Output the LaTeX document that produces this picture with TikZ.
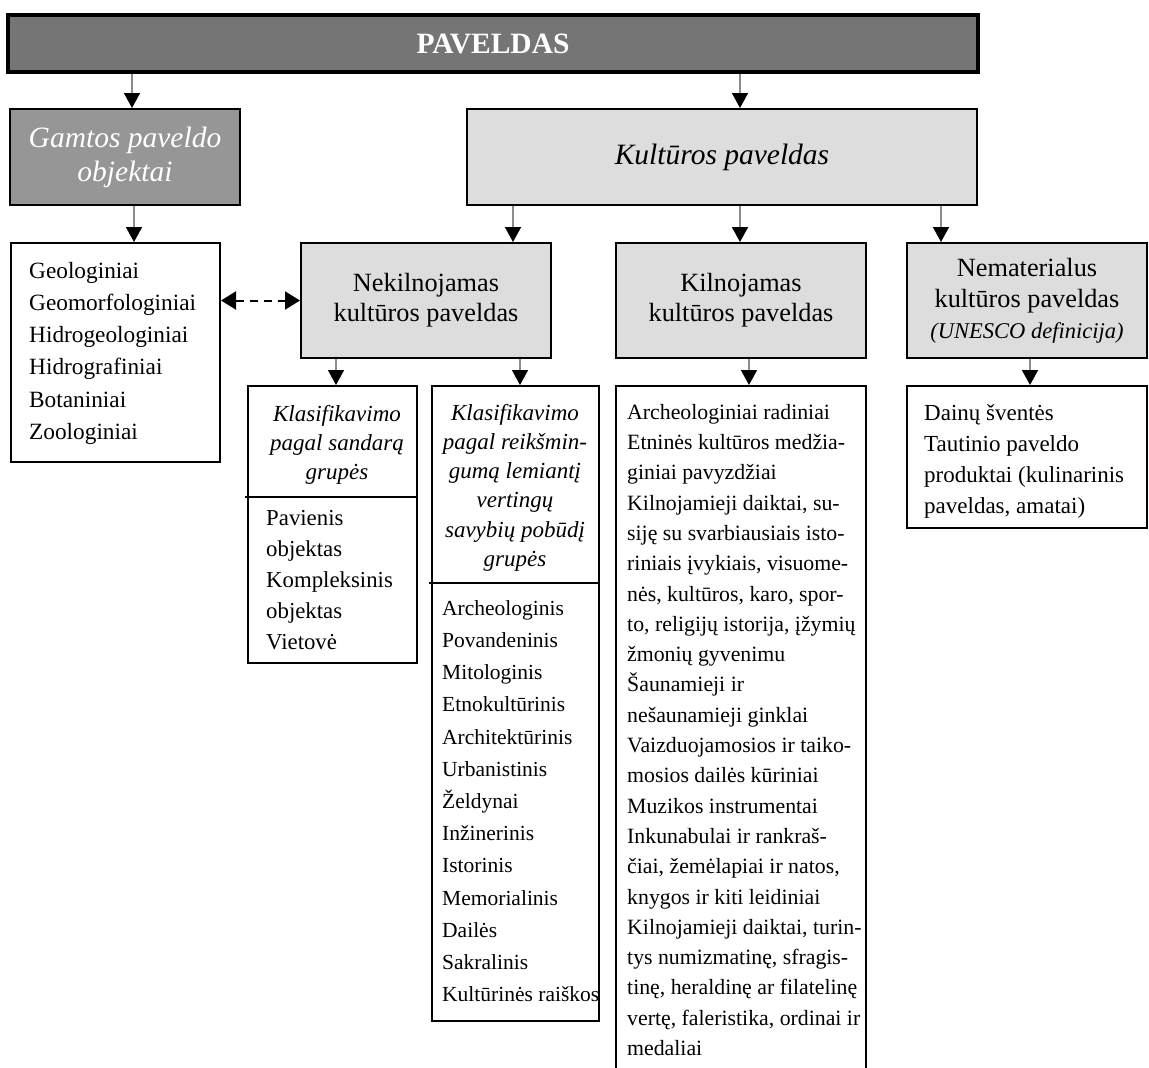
\documentclass[tikz,border=0pt]{standalone}
\usepackage{fontspec}
\setmainfont{Liberation Serif}
\usetikzlibrary{arrows.meta}
\definecolor{pavfill}{HTML}{757575}
\definecolor{gamfill}{HTML}{969696}
\definecolor{lightfill}{HTML}{DDDDDD}
\definecolor{conn}{HTML}{8C8C8C}
\begin{document}
\begin{tikzpicture}[x=1pt,y=-1pt,
  box/.style={draw=black, line width=2pt, inner sep=0pt, align=center},
  hbox/.style={box, fill=lightfill},
  arr/.style={draw=conn, line width=1.6pt, -{Triangle[width=16pt,length=15pt,color=black,fill=black]}},
  listtext/.style={anchor=north west, inner sep=0pt, align=left},
  headtext/.style={anchor=north, inner sep=0pt, align=center},
  divider/.style={draw=black, line width=1.6pt},
  dasharr/.style={draw=black, line width=2pt, dash pattern=on 8pt off 6pt, {Triangle[width=18pt,length=15pt]}-{Triangle[width=18pt,length=15pt]}}
]
\useasboundingbox (0,0) rectangle (1149,1068);
\clip (0,0) rectangle (1149,1068);

% top
\node[box, fill=pavfill, line width=3.5pt, minimum width=970pt, minimum height=57pt, text=white, font=\fontsize{29.5}{34}\selectfont\bfseries] (pav) at (493,43.5) {PAVELDAS};

% second level
\node[box, fill=gamfill, minimum width=230pt, minimum height=96pt, text=white, font=\fontsize{29.5}{34}\selectfont\itshape] (gam) at (125,157) {Gamtos paveldo\\objektai};
\node[hbox, minimum width=510pt, minimum height=96pt, font=\fontsize{29.5}{34}\selectfont\itshape] (kult) at (722,157) {Kultūros paveldas};

% third level
\node[box, minimum width=209pt, minimum height=219pt] (geo) at (115.5,352.5) {};
\node[listtext, font=\fontsize{23.3}{32.2}\selectfont] (geot) at (29,256) {\rule{0pt}{22pt}Geologiniai\\Geomorfologiniai\\Hidrogeologiniai\\Hidrografiniai\\Botaniniai\\Zoologiniai};

\node[hbox, minimum width=250pt, minimum height=115pt, font=\fontsize{26.3}{30}\selectfont] (nek) at (426,300.5) {Nekilnojamas\\kultūros paveldas};
\node[hbox, minimum width=250pt, minimum height=115pt, font=\fontsize{26.3}{30}\selectfont] (kil) at (741,300.5) {Kilnojamas\\kultūros paveldas};
\node[hbox, minimum width=240pt, minimum height=115pt, font=\fontsize{26.3}{31}\selectfont] (nem) at (1027,300.5) {Nematerialus\\kultūros paveldas\\{\fontsize{22.5}{27}\selectfont\itshape (UNESCO definicija)}};

% fourth level
\node[box, minimum width=169pt, minimum height=277pt] (sand) at (332.5,524.5) {};
\draw[divider] ([xshift=-2pt,yshift=-112pt]sand.north west) -- ([yshift=-112pt]sand.north east);
\node[headtext, font=\fontsize{23}{29}\selectfont\itshape] (sandh) at (337,399) {\rule{0pt}{22pt}Klasifikavimo\\pagal sandarą\\grupės};
\node[listtext, font=\fontsize{22.8}{31}\selectfont] (sandl) at (266,503) {\rule{0pt}{22pt}Pavienis\\objektas\\Kompleksinis\\objektas\\Vietovė};

\node[box, minimum width=167pt, minimum height=635pt] (reik) at (515.5,703.5) {};
\draw[divider] ([xshift=-2pt,yshift=-198pt]reik.north west) -- ([yshift=-198pt]reik.north east);
\node[headtext, font=\fontsize{23}{29.2}\selectfont\itshape] (reikh) at (515,398) {\rule{0pt}{22pt}Klasifikavimo\\pagal reikšmin-\\gumą lemiantį\\vertingų\\savybių pobūdį\\grupės};
\node[listtext, font=\fontsize{21.5}{32.2}\selectfont] (reikl) at (442,593) {\rule{0pt}{22pt}Archeologinis\\Povandeninis\\Mitologinis\\Etnokultūrinis\\Architektūrinis\\Urbanistinis\\Želdynai\\Inžinerinis\\Istorinis\\Memorialinis\\Dailės\\Sakralinis\\Kultūrinės raiškos};

\node[box, minimum width=250pt, minimum height=704pt] (kilist) at (741,738) {};
\node[listtext, font=\fontsize{21.8}{30.3}\selectfont] (kilistt) at (627,397) {\rule{0pt}{22pt}Archeologiniai radiniai\\Etninės kultūros medžia-\\giniai pavyzdžiai\\Kilnojamieji daiktai, su-\\siję su svarbiausiais isto-\\riniais įvykiais, visuome-\\nės, kultūros, karo, spor-\\to, religijų istorija, įžymių\\žmonių gyvenimu\\Šaunamieji ir\\nešaunamieji ginklai\\Vaizduojamosios ir taiko-\\mosios dailės kūriniai\\Muzikos instrumentai\\Inkunabulai ir rankraš-\\čiai, žemėlapiai ir natos,\\knygos ir kiti leidiniai\\Kilnojamieji daiktai, turin-\\tys numizmatinę, sfragis-\\tinę, heraldinę ar filatelinę\\vertę, faleristika, ordinai ir\\medaliai};

\node[box, minimum width=240pt, minimum height=142pt] (nemlist) at (1027,457) {};
\node[listtext, font=\fontsize{23}{31}\selectfont] (nemlistt) at (924,398) {\rule{0pt}{22pt}Dainų šventės\\Tautinio paveldo\\produktai (kulinarinis\\paveldas, amatai)};

% connectors
\draw[arr] ([xshift=7pt]gam.north |- pav.south) -- ([xshift=7pt]gam.north);
\draw[arr] ([xshift=18pt]kult.north |- pav.south) -- ([xshift=18pt]kult.north);
\draw[arr] ([xshift=18.5pt]geo.north |- gam.south) -- ([xshift=18.5pt]geo.north);
\draw[arr] ([xshift=87pt]nek.north |- kult.south) -- ([xshift=87pt]nek.north);
\draw[arr] ([xshift=-1pt]kil.north |- kult.south) -- ([xshift=-1pt]kil.north);
\draw[arr] ([xshift=-86pt]nem.north |- kult.south) -- ([xshift=-86pt]nem.north);
\draw[arr] ([xshift=3.5pt]sand.north |- nek.south) -- ([xshift=3.5pt]sand.north);
\draw[arr] ([xshift=4.5pt]reik.north |- nek.south) -- ([xshift=4.5pt]reik.north);
\draw[arr] ([xshift=8pt]kilist.north |- kil.south) -- ([xshift=8pt]kilist.north);
\draw[arr] ([xshift=3pt]nemlist.north |- nem.south) -- ([xshift=3pt]nemlist.north);
\draw[dasharr] (nek.west -| geo.east) -- (nek.west);
\end{tikzpicture}
\end{document}
